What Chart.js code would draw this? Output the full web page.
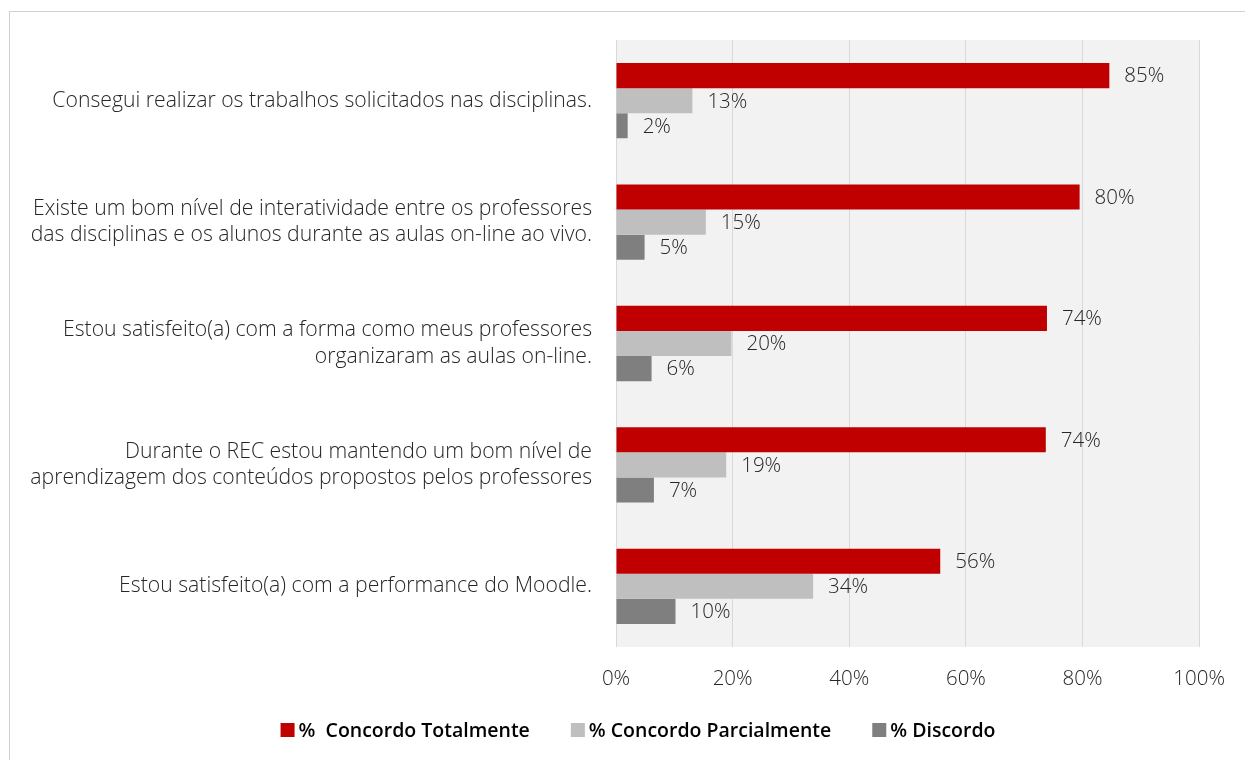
<!DOCTYPE html>
<html>
<head>
<meta charset="utf-8">
<script src="https://cdn.jsdelivr.net/npm/chart.js@4/dist/chart.umd.min.js"></script>
<style>
    html, body { margin: 0; padding: 0; background: #ffffff; }
    #wrap { position: relative; width: 1245px; height: 760px; overflow: hidden; }
    #frame { position: absolute; left: 9px; top: 11px; width: 1300px; height: 800px; border: 1px solid #d0d0d0; box-sizing: border-box; }
    #chart { position: absolute; left: 0; top: 0; }
</style>
</head>
<body>
<div id="wrap">
    <div id="frame"></div>
    <canvas id="chart" width="1245" height="760"></canvas>
</div>
<script>
// categories (multi-line labels as shown on the axis)
const categories = [
    ['Consegui realizar os trabalhos solicitados nas disciplinas.'],
    ['Existe um bom nível de interatividade entre os professores', 'das disciplinas e os alunos durante as aulas on-line ao vivo.'],
    ['Estou satisfeito(a) com a forma como meus professores', 'organizaram as aulas on-line.'],
    ['Durante o REC estou mantendo um bom nível de', 'aprendizagem dos conteúdos propostos pelos professores'],
    ['Estou satisfeito(a) com a performance do Moodle.']
];

const seriesNames = ['%  Concordo Totalmente', '% Concordo Parcialmente', '% Discordo'];

const concordoTotal = [84.6, 79.5, 73.9, 73.7, 55.6];
const concordoParcial = [13.1, 15.4, 19.8, 18.9, 33.8];
const discordo = [2.0, 4.9, 6.1, 6.5, 10.2];

const xTicks = [0, 20, 40, 60, 80, 100];

const colors = ['#c00000', '#bfbfbf', '#7f7f7f'];
const textColor = '#262626';
const fontFamily = "'Open Sans', 'Noto Sans', sans-serif";

// grey plot background
const plotBackground = {
    id: 'plotBackground',
    beforeDraw(chart) {
        const { ctx, chartArea } = chart;
        ctx.save();
        ctx.fillStyle = '#f2f2f2';
        ctx.fillRect(chartArea.left, chartArea.top, chartArea.right - chartArea.left, chartArea.bottom - chartArea.top);
        ctx.restore();
    }
};

// value labels to the right of each bar
const valueLabels = {
    id: 'valueLabels',
    afterDatasetsDraw(chart) {
        const { ctx } = chart;
        ctx.save();
        ctx.font = '300 20.5px ' + fontFamily;
        ctx.fillStyle = textColor;
        ctx.textAlign = 'left';
        ctx.textBaseline = 'middle';
        chart.data.datasets.forEach((ds, i) => {
            const meta = chart.getDatasetMeta(i);
            meta.data.forEach((bar, j) => {
                ctx.fillText(Math.round(ds.data[j]) + '%', bar.x + 15, bar.y + 1);
            });
        });
        ctx.restore();
    }
};

// legend drawn by hand so spacing matches the original
const customLegend = {
    id: 'customLegend',
    afterDraw(chart) {
        const { ctx } = chart;
        const box = 14, gap = 4, itemGap = 41, centerX = 638, centerY = 730;
        ctx.save();
        ctx.font = '600 19.5px ' + fontFamily;
        ctx.textBaseline = 'middle';
        ctx.textAlign = 'left';
        const widths = chart.data.datasets.map(ds => ctx.measureText(ds.label).width);
        let total = widths.reduce((a, w) => a + box + gap + w, 0) + itemGap * (widths.length - 1);
        let x = centerX - total / 2;
        chart.data.datasets.forEach((ds, i) => {
            ctx.fillStyle = ds.backgroundColor;
            ctx.fillRect(x, centerY - box / 2, box, box);
            ctx.fillStyle = '#000000';
            ctx.fillText(ds.label, x + box + gap, centerY + 1);
            x += box + gap + widths[i] + itemGap;
        });
        ctx.restore();
    }
};

const datasets = [concordoTotal, concordoParcial, discordo].map((values, i) => ({
    label: seriesNames[i],
    data: values,
    backgroundColor: colors[i],
    borderWidth: 0,
    categoryPercentage: 0.62,
    barPercentage: 1.0
}));

new Chart(document.getElementById('chart'), {
    type: 'bar',
    data: { labels: categories, datasets: datasets },
    plugins: [plotBackground, valueLabels, customLegend],
    options: {
        indexAxis: 'y',
        responsive: false,
        animation: false,
        layout: { padding: { left: 0, right: 43, top: 40, bottom: 63 } },
        scales: {
            x: {
                min: 0,
                max: 100,
                afterBuildTicks(scale) {
                    scale.ticks = xTicks.map(v => ({ value: v }));
                },
                afterFit(scale) { scale.height = 50; },
                grid: { color: '#d9d9d9', lineWidth: 1, drawTicks: false },
                border: { display: false },
                ticks: {
                    padding: 20,
                    color: textColor,
                    font: { family: fontFamily, size: 20.5, weight: 300 },
                    callback: v => v + '%'
                }
            },
            y: {
                afterFit(scale) { scale.width = 616; },
                grid: { display: false, drawTicks: false },
                border: { display: false },
                ticks: {
                    padding: 24,
                    color: textColor,
                    font: { family: fontFamily, size: 21.2, weight: 300, lineHeight: 1.26 }
                }
            }
        },
        plugins: {
            legend: { display: false },
            tooltip: { enabled: false }
        }
    }
});
</script>
</body>
</html>
